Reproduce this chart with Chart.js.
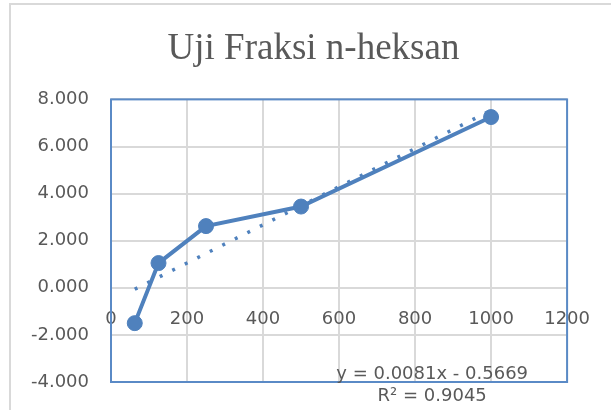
<!DOCTYPE html>
<html>
<head>
<meta charset="utf-8">
<script src="https://cdn.jsdelivr.net/npm/chart.js@4.4.0/dist/chart.umd.min.js"></script>
<style>
  html, body { margin: 0; padding: 0; background: #fff; }
  #wrap { position: relative; width: 611px; height: 410px; }
  #frame { position: absolute; left: 9px; top: 3px; right: -4px; bottom: -4px;
           border-left: 2px solid #d9d9d9; border-top: 2px solid #d9d9d9; }
  canvas { position: absolute; left: 0; top: 0; }
</style>
</head>
<body>
<div id="wrap">
  <div id="frame"></div>
  <canvas id="chart" width="611" height="410"></canvas>
</div>
<script>
// data
const konsentrasi = [62.5, 125, 250, 500, 1000];
const nilai = [-1.5, 1.05, 2.62, 3.45, 7.25];
const trendSlope = 0.0081;
const trendIntercept = -0.5669;
const trendX = [62.5, 1000];
const persamaan = ['y = 0.0081x - 0.5669', 'R\u00b2 = 0.9045'];

const BLUE = '#4F81BD';
const TEXT = '#595959';
const GRID = '#d9d9d9';

const seriesPoints = konsentrasi.map((x, i) => ({ x: x, y: nilai[i] }));
const trendPoints = trendX.map(x => ({ x: x, y: trendSlope * x + trendIntercept }));

// blue plot-area frame + trendline equation
const plotFrame = {
    id: 'plotFrame',
    afterDraw(chart) {
        const { ctx, chartArea, scales } = chart;
        ctx.save();
        ctx.strokeStyle = '#5A8AC6';
        ctx.lineWidth = 2;
        ctx.strokeRect(chartArea.left, chartArea.top,
            chartArea.right - chartArea.left, chartArea.bottom - chartArea.top);

        ctx.fillStyle = TEXT;
        ctx.font = '18px "DejaVu Sans"';
        ctx.textAlign = 'center';
        ctx.textBaseline = 'middle';
        const cx = scales.x.getPixelForValue(845);
        const cy = scales.y.getPixelForValue(-3.66);
        ctx.fillText(persamaan[0], cx, cy);
        ctx.fillText(persamaan[1], cx, cy + 22);
        ctx.restore();
    }
};

new Chart(document.getElementById('chart').getContext('2d'), {
    type: 'scatter',
    data: {
        datasets: [
            {
                label: 'Linear',
                data: trendPoints,
                showLine: true,
                borderColor: BLUE,
                borderWidth: 3.5,
                borderDash: [3, 11],
                pointRadius: 0,
                fill: false
            },
            {
                label: 'Uji Fraksi n-heksan',
                data: seriesPoints,
                showLine: true,
                borderColor: BLUE,
                borderWidth: 4,
                backgroundColor: BLUE,
                pointBackgroundColor: BLUE,
                pointBorderColor: BLUE,
                pointRadius: 7.5,
                pointBorderWidth: 1,
                fill: false
            }
        ]
    },
    options: {
        responsive: false,
        animation: false,
        layout: { padding: { left: 16, right: 0, bottom: 28, top: 0 } },
        plugins: {
            legend: { display: false },
            tooltip: { enabled: false },
            title: {
                display: true,
                text: 'Uji Fraksi n-heksan',
                color: TEXT,
                font: { family: '"Liberation Serif", "Times New Roman", serif', size: 37, weight: 'normal' },
                padding: { top: 27, bottom: 28 }
            }
        },
        scales: {
            x: {
                type: 'linear',
                position: { y: 0 },
                min: 0,
                max: 1200,
                ticks: {
                    stepSize: 200,
                    color: TEXT,
                    padding: 21,
                    maxRotation: 0,
                    font: { family: '"DejaVu Sans"', size: 18 },
                    callback: v => String(v)
                },
                grid: { color: GRID, lineWidth: 2, drawTicks: false },
                border: { display: false }
            },
            y: {
                min: -4,
                max: 8,
                afterFit(scale) {
                    scale.width = 95;
                    scale.paddingTop = 0;
                    scale.paddingBottom = 0;
                },
                ticks: {
                    stepSize: 2,
                    color: TEXT,
                    padding: 22,
                    font: { family: '"DejaVu Sans"', size: 18 },
                    callback: v => v.toFixed(3)
                },
                grid: { color: GRID, lineWidth: 2, drawTicks: false },
                border: { display: false }
            },
            // empty right-hand strip so the title stays centred like the reference
            ruang: {
                type: 'linear',
                position: 'right',
                afterFit(scale) { scale.width = 42; },
                ticks: { display: false },
                grid: { display: false },
                border: { display: false }
            }
        }
    },
    plugins: [plotFrame]
});
</script>
</body>
</html>
